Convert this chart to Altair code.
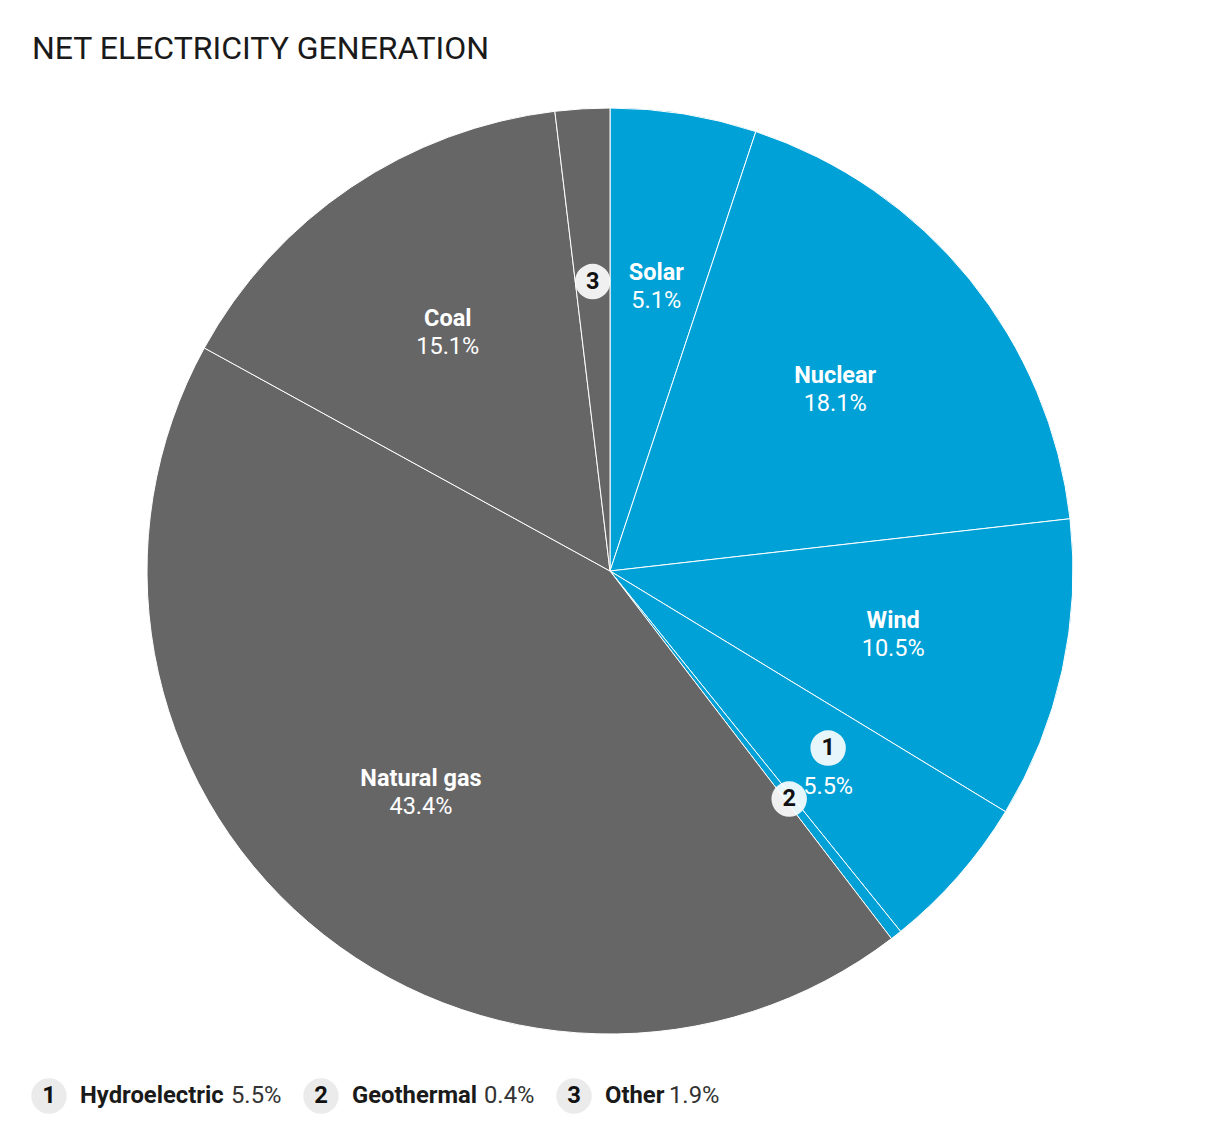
import altair as alt
import pandas as pd

# ---- data ----
categories = ["Solar", "Nuclear", "Wind", "Hydroelectric", "Geothermal", "Natural gas", "Coal", "Other"]
values = [5.1, 18.1, 10.5, 5.5, 0.4, 43.4, 15.1, 1.9]
groups = ["clean", "clean", "clean", "clean", "clean", "fossil", "fossil", "fossil"]
label_kind = ["full", "full", "full", "marker_pct", "marker", "full", "full", "marker"]
marker_nums = ["", "", "", "1", "2", "", "", "3"]

legend_nums = ["1", "2", "3"]
legend_names = ["Hydroelectric", "Geothermal", "Other"]
legend_pcts = ["5.5%", "0.4%", "1.9%"]

title_text = "NET ELECTRICITY GENERATION"

# ---- layout (not data) ----
W, H = 1204, 1126
CX, CY = W / 2, H / 2
R = 463
RL = 290
FONT = "Roboto"
BLUE = "#00a1d6"
GRAY = "#666666"
LBL = 23.5
LEG = 23.8
MSIZE = 1257
legend_circle_x = [41, 313, 566]
legend_name_x = [72, 344, 597]
legend_pct_x = [223, 476, 661]
legend_y = 1088

df = pd.DataFrame({
    "category": categories,
    "value": values,
    "group": groups,
    "order": list(range(len(categories))),
    "kind": label_kind,
    "num": marker_nums,
})
df["pct"] = [f"{v:.1f}%" for v in values]

arcs = alt.Chart(df).mark_arc(outerRadius=R, stroke="white", strokeWidth=1).encode(
    theta=alt.Theta("value:Q", stack=True),
    color=alt.Color("group:N", scale=alt.Scale(domain=["clean", "fossil"], range=[BLUE, GRAY]), legend=None),
    order=alt.Order("order:Q"),
)

base = (
    alt.Chart(df)
    .transform_joinaggregate(total="sum(value)")
    .transform_window(cum="sum(value)", sort=[alt.SortField("order")], frame=[None, 0])
    .transform_calculate(
        ang="(datum.cum - datum.value/2) / datum.total * 2 * PI",
    )
    .transform_calculate(
        lx=f"{CX} + {RL} * sin(datum.ang)",
        ly=f"{CY} - {RL} * cos(datum.ang)",
    )
)
pos = dict(x=alt.X("lx:Q", scale=None, axis=None), y=alt.Y("ly:Q", scale=None, axis=None))

names = base.transform_filter("datum.kind == 'full'").mark_text(
    font=FONT, fontSize=LBL, fontWeight="bold", color="white", dy=-12, baseline="middle", align="center"
).encode(text="category:N", **pos)

pcts = base.transform_filter("datum.kind == 'full'").mark_text(
    font=FONT, fontSize=LBL, color="white", dy=16, baseline="middle", align="center"
).encode(text="pct:N", **pos)

hydro_pct = base.transform_filter("datum.kind == 'marker_pct'").mark_text(
    font=FONT, fontSize=LBL, color="white", dy=25, baseline="middle", align="center"
).encode(text="pct:N", **pos)

hydro_base = base.transform_filter("datum.kind == 'marker_pct'").transform_calculate(ly2="datum.ly - 14")
hpos = dict(x=alt.X("lx:Q", scale=None, axis=None), y=alt.Y("ly2:Q", scale=None, axis=None))

hydro_marker = hydro_base.mark_circle(size=MSIZE, color="white", opacity=0.9).encode(**hpos)

hydro_num = hydro_base.mark_text(
    font=FONT, fontSize=LBL, fontWeight="bold", color="#111111", baseline="middle", align="center"
).encode(text="num:N", **hpos)

other_marker = base.transform_filter("datum.kind == 'marker'").mark_circle(
    size=MSIZE, color="white", opacity=0.9
).encode(**pos)

other_num = base.transform_filter("datum.kind == 'marker'").mark_text(
    font=FONT, fontSize=LBL, fontWeight="bold", color="#111111", baseline="middle", align="center"
).encode(text="num:N", **pos)

title = alt.Chart(pd.DataFrame({"t": [title_text]})).mark_text(
    font=FONT, fontSize=32, color="#1a1a1a", align="left", baseline="middle"
).encode(text="t:N", x=alt.value(24), y=alt.value(41))

leg_df = pd.DataFrame({
    "num": legend_nums,
    "name": legend_names,
    "pct": legend_pcts,
    "cx": legend_circle_x,
    "nx": legend_name_x,
    "px": legend_pct_x,
    "ly": [legend_y] * len(legend_nums),
})
leg_y = alt.Y("ly:Q", scale=None, axis=None)
leg_circles = alt.Chart(leg_df).mark_circle(size=MSIZE, color="#ebebeb", opacity=1).encode(
    x=alt.X("cx:Q", scale=None, axis=None), y=leg_y)
leg_nums = alt.Chart(leg_df).mark_text(font=FONT, fontSize=LEG, fontWeight="bold", color="#111111",
                                       align="center", baseline="middle").encode(
    x=alt.X("cx:Q", scale=None, axis=None), y=leg_y, text="num:N")
leg_names = alt.Chart(leg_df).mark_text(font=FONT, fontSize=LEG, fontWeight="bold", color="#1a1a1a",
                                        align="left", baseline="middle").encode(
    x=alt.X("nx:Q", scale=None, axis=None), y=leg_y, text="name:N")
leg_pcts = alt.Chart(leg_df).mark_text(font=FONT, fontSize=LEG, color="#333333",
                                       align="left", baseline="middle").encode(
    x=alt.X("px:Q", scale=None, axis=None), y=leg_y, text="pct:N")

chart = alt.layer(
    arcs, names, pcts, hydro_pct, hydro_marker, hydro_num, other_marker, other_num,
    title, leg_circles, leg_nums, leg_names, leg_pcts,
).properties(
    width=W, height=H, autosize=alt.AutoSizeParams(type="none"), padding=0,
    background="white",
).configure_view(strokeWidth=0)

chart.save("out.html", embed_options={"renderer": "svg", "actions": False})
